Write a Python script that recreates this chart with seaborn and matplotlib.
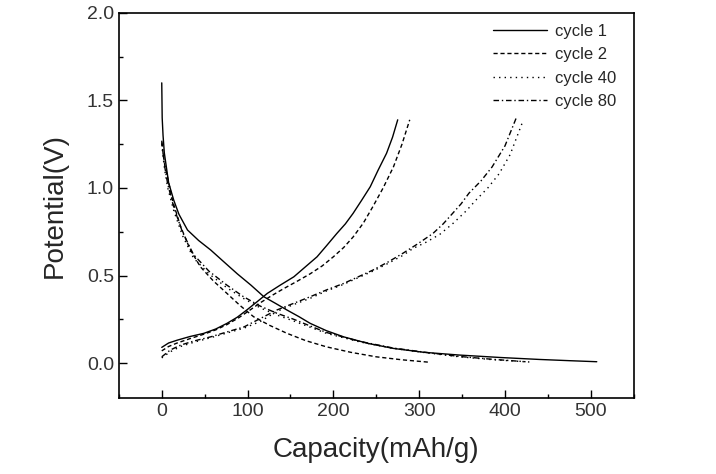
import numpy as np
import pandas as pd
import matplotlib
matplotlib.use("Agg")
import matplotlib.pyplot as plt
import seaborn as sns
from matplotlib.ticker import MultipleLocator

# capacity (mAh/g) / potential (V)
c1_dis_x = [0, 0.5, 1.5, 3, 8, 14, 20, 30, 43, 57, 72, 88, 104, 119, 133, 146, 160, 173, 192, 212, 240, 270, 305, 347, 395, 440, 475, 507]
c1_dis_y = [1.60, 1.40, 1.30, 1.20, 1.03, 0.93, 0.85, 0.76, 0.70, 0.646, 0.58, 0.51, 0.445, 0.379, 0.34, 0.303, 0.265, 0.227, 0.185, 0.15, 0.113, 0.084, 0.062, 0.046, 0.032, 0.021, 0.014, 0.008]
c1_chg_x = [0, 8, 18, 33, 49, 63, 76, 88, 99, 111, 123, 138, 154, 167, 181, 192, 204, 214, 223, 233, 243, 252, 262, 269, 275]
c1_chg_y = [0.09, 0.115, 0.131, 0.152, 0.17, 0.195, 0.227, 0.262, 0.303, 0.35, 0.398, 0.445, 0.493, 0.548, 0.607, 0.67, 0.74, 0.795, 0.855, 0.93, 1.007, 1.10, 1.198, 1.29, 1.389]

c2_dis_x = [0, 1.5, 3.5, 6.6, 13, 22, 33, 45, 60, 76, 91, 107, 126, 146, 168, 192, 220, 250, 280, 312]
c2_dis_y = [1.26, 1.20, 1.13, 1.065, 0.92, 0.78, 0.65, 0.55, 0.47, 0.398, 0.33, 0.265, 0.215, 0.17, 0.128, 0.093, 0.062, 0.036, 0.019, 0.005]
c2_chg_x = [0, 8, 18, 33, 49, 63, 76, 90, 102, 115, 128, 142, 158, 173, 187, 200, 212, 223, 235, 246, 258, 270, 280, 289]
c2_chg_y = [0.07, 0.095, 0.115, 0.14, 0.165, 0.19, 0.22, 0.26, 0.30, 0.345, 0.385, 0.425, 0.468, 0.51, 0.555, 0.607, 0.66, 0.72, 0.80, 0.893, 1.00, 1.12, 1.25, 1.389]

c40_dis_x = [0, 1.5, 3.5, 7, 14, 24, 37, 55, 76, 95, 115, 134, 154, 173, 192, 230, 270, 310, 347, 385, 430]
c40_dis_y = [1.25, 1.18, 1.10, 1.00, 0.87, 0.73, 0.60, 0.51, 0.43, 0.37, 0.315, 0.275, 0.24, 0.205, 0.17, 0.122, 0.084, 0.058, 0.036, 0.02, 0.006]
c40_chg_x = [0, 10, 22, 38, 57, 76, 96, 115, 134, 153, 173, 192, 212, 230, 246, 264, 281, 293, 308, 324, 340, 355, 366, 380, 393, 406, 420]
c40_chg_y = [0.03, 0.065, 0.095, 0.12, 0.145, 0.172, 0.2, 0.238, 0.295, 0.333, 0.37, 0.412, 0.45, 0.49, 0.525, 0.57, 0.615, 0.655, 0.69, 0.735, 0.8, 0.87, 0.93, 1.0, 1.08, 1.19, 1.37]

c80_dis_x = [0, 1.5, 3.5, 7, 14, 24, 37, 55, 76, 95, 115, 134, 154, 173, 192, 230, 270, 310, 347, 385, 424]
c80_dis_y = [1.27, 1.20, 1.12, 1.02, 0.89, 0.75, 0.62, 0.525, 0.445, 0.38, 0.325, 0.285, 0.25, 0.212, 0.175, 0.125, 0.086, 0.06, 0.038, 0.022, 0.008]
c80_chg_x = [0, 10, 22, 38, 57, 76, 96, 115, 134, 153, 173, 192, 212, 230, 246, 264, 281, 298, 316, 328, 339, 349, 358, 372, 385, 400, 413]
c80_chg_y = [0.036, 0.075, 0.103, 0.127, 0.15, 0.178, 0.207, 0.255, 0.303, 0.34, 0.379, 0.418, 0.455, 0.495, 0.531, 0.578, 0.627, 0.68, 0.74, 0.795, 0.855, 0.91, 0.97, 1.04, 1.12, 1.24, 1.398]

labels = ["cycle 1", "cycle 2", "cycle 40", "cycle 80"]
styles = ["-", (0, (3, 2)), (0, (1, 3)), (0, (4, 2, 1, 2))]
curves = [
    (c1_dis_x, c1_dis_y, c1_chg_x, c1_chg_y),
    (c2_dis_x, c2_dis_y, c2_chg_x, c2_chg_y),
    (c40_dis_x, c40_dis_y, c40_chg_x, c40_chg_y),
    (c80_dis_x, c80_dis_y, c80_chg_x, c80_chg_y),
]

sns.set_style("ticks")
plt.rcParams["font.family"] = ["Liberation Sans", "DejaVu Sans"]

fig = plt.figure(figsize=(7.16, 4.74), dpi=100)
ax = fig.add_axes([0.166, 0.160, 0.719, 0.813])

for lab, ls, (dx, dy, cx, cy) in zip(labels, styles, curves):
    sns.lineplot(x=dx, y=dy, sort=False, color="k", lw=1.0, linestyle=ls, label=lab, ax=ax)
    sns.lineplot(x=cx, y=cy, sort=False, color="k", lw=1.0, linestyle=ls, ax=ax)

ax.set_xlim(-50, 550)
ax.set_ylim(-0.2, 2.0)
ax.xaxis.set_major_locator(MultipleLocator(100))
ax.xaxis.set_minor_locator(MultipleLocator(50))
ax.yaxis.set_major_locator(MultipleLocator(0.5))
ax.yaxis.set_minor_locator(MultipleLocator(0.25))
ax.yaxis.set_major_formatter(matplotlib.ticker.FormatStrFormatter("%.1f"))
ax.tick_params(which="both", direction="in", top=False, right=False, labelsize=14, labelcolor="#333333", color="k")
ax.tick_params(which="major", length=6, width=1)
ax.tick_params(which="minor", length=3, width=1)
for s in ax.spines.values():
    s.set_linewidth(1.2)
    s.set_color("k")

ax.set_xlabel("Capacity(mAh/g)", fontsize=20, labelpad=12)
ax.set_ylabel("Potential(V)", fontsize=20, labelpad=14)

leg = ax.legend(loc="upper right", bbox_to_anchor=(0.995, 1.01), frameon=False, fontsize=12,
                handlelength=3.2, handletextpad=0.5, labelspacing=0.5)

fig.savefig("out.png", dpi=100)
